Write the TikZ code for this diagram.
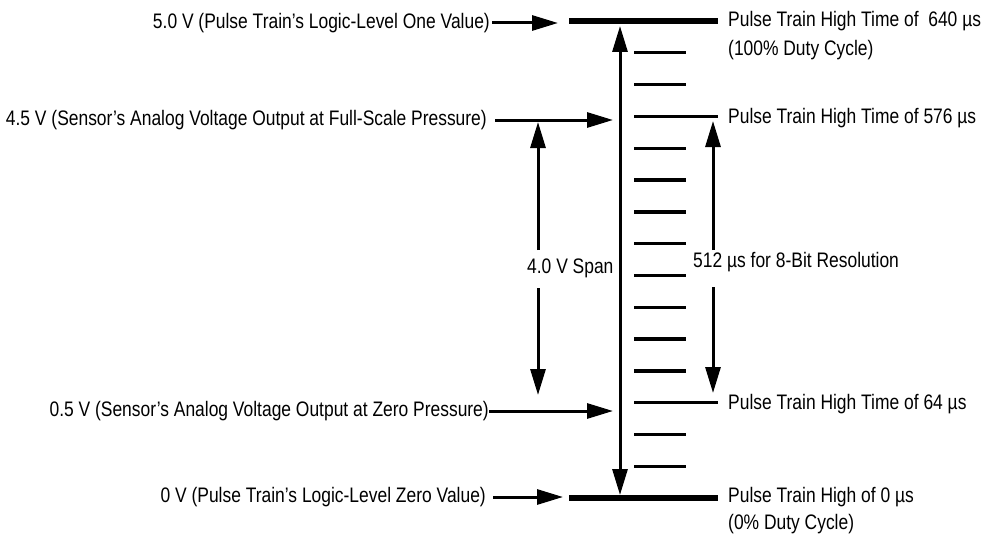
\documentclass[tikz,border=0pt]{standalone}
\usepackage{fontspec}
\setmainfont{Liberation Sans}[FakeStretch=0.83]
\usetikzlibrary{arrows.meta}
\begin{document}
\begin{tikzpicture}[x=1pt,y=-1pt,
  lbl/.style={inner sep=0pt, font=\fontsize{21}{24}\selectfont, text height=15.3pt, text depth=4.4pt},
  arr/.style={line width=3pt, -{Triangle[length=26pt,width=15pt]}},
  dbl/.style={line width=3pt, {Triangle[length=26pt,width=15pt]}-{Triangle[length=26pt,width=15pt]}},
  thickbar/.style={line width=6pt},
  tickbar/.style={line width=3.4pt}]
\useasboundingbox (0,0) rectangle (986,535);

% pulse-train levels
\coordinate (b0l) at (569,21);  \coordinate (b0r) at (718,21);
\coordinate (b15l) at (569,498); \coordinate (b15r) at (718,498);
\draw[thickbar] (b0l) -- (b0r);
\draw[thickbar] (b15l) -- (b15r);
\foreach \k in {1,2,4,5,6,7,8,9,10,11,13,14} {
  \coordinate (t\k l) at (634,21+\k*31.8);
  \coordinate (t\k r) at (686,21+\k*31.8);
  \draw[tickbar] (t\k l) -- (t\k r);
}
\foreach \k in {3,12} {
  \coordinate (t\k l) at (634,21+\k*31.8);
  \coordinate (t\k r) at (718,21+\k*31.8);
  \draw[tickbar] (t\k l) -- (t\k r);
}

% main vertical double arrow
\coordinate (vt) at (620,26);
\coordinate (vb) at (620,495);
\draw[dbl] (vt) -- (vb);

% left labels
\node[lbl, anchor=east] (L1) at (490,23) {5.0 V (Pulse Train’s Logic-Level One Value)};
\node[lbl, anchor=east] (L2) at (487,120) {4.5 V (Sensor’s Analog Voltage Output at Full-Scale Pressure)};
\node[lbl, anchor=east] (L3) at (489,411) {0.5 V (Sensor’s Analog Voltage Output at Zero Pressure)};
\node[lbl, anchor=east] (L4) at (486,497) {0 V (Pulse Train’s Logic-Level Zero Value)};

\coordinate (a1) at (558,23);
\coordinate (a2) at (613,120);
\coordinate (a3) at (613,411);
\coordinate (a4) at (563,497);
\draw[arr] ([xshift=2pt]L1.east) -- (a1);
\draw[arr] ([xshift=8pt]L2.east) -- (a2);
\draw[arr] (L3.east) -- (a3);
\draw[arr] ([xshift=7pt]L4.east) -- (a4);

% right labels
\node[lbl, anchor=west] (R1) at (728,21) {Pulse Train High Time of~ 640 µs};
\node[lbl, anchor=west] (R1b) at (728,50) {(100\% Duty Cycle)};
\node[lbl, anchor=west] (R2) at (728,118) {Pulse Train High Time of 576 µs};
\node[lbl, anchor=west] (R3) at (728,404) {Pulse Train High Time of 64 µs};
\node[lbl, anchor=west] (R4) at (728,497) {Pulse Train High of 0 µs};
\node[lbl, anchor=west] (R4b) at (728,524) {(0\% Duty Cycle)};

% span arrows
\node[lbl, anchor=west] (S) at (527,268) {4.0 V Span};
\node[lbl, anchor=west] (M) at (693,262) {512 µs for 8-Bit Resolution};

\coordinate (s1) at (538,122); \coordinate (s2) at (538,250);
\coordinate (s3) at (538,288); \coordinate (s4) at (538,395);
\draw[arr] (s2) -- (s1);
\draw[arr] (s3) -- (s4);

\coordinate (m1) at (713,121); \coordinate (m2) at (713,250);
\coordinate (m3) at (713,287); \coordinate (m4) at (713,393);
\draw[arr] (m2) -- (m1);
\draw[arr] (m3) -- (m4);
\end{tikzpicture}
\end{document}
